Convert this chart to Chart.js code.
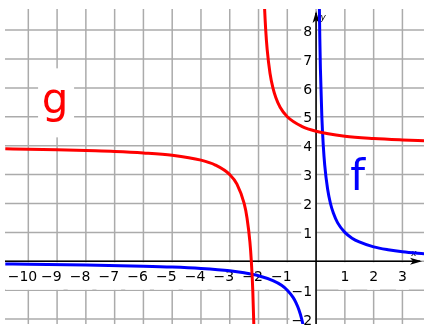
<!DOCTYPE html>
<html>
<head>
<meta charset="utf-8">
<script src="https://cdn.jsdelivr.net/npm/chart.js@4"></script>
<style>
  html, body { margin: 0; padding: 0; background: #fff; }
  canvas { display: block; }
</style>
</head>
<body>
<canvas id="chart" width="429" height="325"></canvas>
<script>
// grid / tick values
const xTicks = [-10, -9, -8, -7, -6, -5, -4, -3, -2, -1, 1, 2, 3];
const yTicks = [-2, -1, 1, 2, 3, 4, 5, 6, 7, 8];
const xGrid = [-10, -9, -8, -7, -6, -5, -4, -3, -2, -1, 0, 1, 2, 3];
const yGrid = [-2, -1, 0, 1, 2, 3, 4, 5, 6, 7, 8];

// g, left branch
const gLeftX = [-10.8, -10, -9, -8, -7, -6, -5, -4, -3.5, -3, -2.75, -2.5, -2.4, -2.3, -2.25, -2.2, -2.15];
const gLeftY = [3.89, 3.88, 3.86, 3.83, 3.8, 3.75, 3.67, 3.5, 3.33, 3.0, 2.67, 2.0, 1.5, 0.67, 0.0, -1.0, -2.67];
// g, right branch
const gRightX = [-1.85, -1.8, -1.75, -1.7, -1.6, -1.5, -1.4, -1.25, -1, -0.5, 0, 1, 2, 3, 3.8];
const gRightY = [10.67, 9.0, 8.0, 7.33, 6.5, 6.0, 5.67, 5.33, 5.0, 4.67, 4.5, 4.33, 4.25, 4.2, 4.17];
// f, left branch
const fLeftX = [-10.8, -10, -8, -6, -5, -4, -3, -2.5, -2, -1.5, -1.2, -1, -0.8, -0.7, -0.6, -0.5, -0.45, -0.4];
const fLeftY = [-0.09, -0.1, -0.13, -0.17, -0.2, -0.25, -0.33, -0.4, -0.5, -0.67, -0.83, -1.0, -1.25, -1.43, -1.67, -2.0, -2.22, -2.5];
// f, right branch
const fRightX = [0.1, 0.115, 0.13, 0.15, 0.2, 0.25, 0.3, 0.4, 0.5, 0.6, 0.75, 1, 1.25, 1.5, 2, 2.5, 3, 3.8];
const fRightY = [10.0, 8.7, 7.7, 6.67, 5.0, 4.0, 3.33, 2.5, 2.0, 1.67, 1.33, 1.0, 0.8, 0.67, 0.5, 0.4, 0.33, 0.26];

const curveNames = ["g", "f"];
const curveNameX = [-9.07, 1.44];
const curveNameY = [5.5, 2.84];

const RED = "#ff0000";
const BLUE = "#0000ff";
const FONT = "14px 'DejaVu Sans'";

function pts(xs, ys) {
    return xs.map(function (v, i) { return { x: v, y: ys[i] }; });
}

function branch(xs, ys, color) {
    return {
        data: pts(xs, ys),
        borderColor: color,
        borderWidth: 3,
        pointRadius: 0,
        showLine: true,
        fill: false,
        cubicInterpolationMode: "monotone",
    };
}

// grid, axes and labels go under the curves
const axesPlugin = {
    id: "axes",
    beforeDatasetsDraw(chart) {
        const ctx = chart.ctx;
        const a = chart.chartArea;
        const sx = chart.scales.x;
        const sy = chart.scales.y;
        const x0 = sx.getPixelForValue(0);
        const y0 = sy.getPixelForValue(0);

        ctx.save();
        // grid
        ctx.strokeStyle = "#ababab";
        ctx.lineWidth = 1.5;
        xGrid.forEach(function (v) {
            const px = sx.getPixelForValue(v);
            ctx.beginPath();
            ctx.moveTo(px, a.top);
            ctx.lineTo(px, a.bottom);
            ctx.stroke();
        });
        yGrid.forEach(function (v) {
            const py = sy.getPixelForValue(v);
            ctx.beginPath();
            ctx.moveTo(a.left, py);
            ctx.lineTo(a.right, py);
            ctx.stroke();
        });

        ctx.font = FONT;
        ctx.textBaseline = "middle";

        // x tick labels (digits centred on the tick, minus hangs left)
        xTicks.forEach(function (v) {
            const px = sx.getPixelForValue(v);
            const digits = String(Math.abs(v));
            const dw = ctx.measureText(digits).width;
            const mw = v < 0 ? ctx.measureText("\u2212").width : 0;
            const left = px - dw / 2 - mw;
            ctx.fillStyle = "#fff";
            ctx.fillRect(left - 2, y0 + 1, dw + mw + 4, 27.5);
            ctx.fillStyle = "#000";
            ctx.textAlign = "left";
            ctx.fillText((v < 0 ? "\u2212" : "") + digits, left, y0 + 16);
        });

        // y tick labels
        yTicks.forEach(function (v) {
            const py = sy.getPixelForValue(v);
            const txt = (v < 0 ? "\u2212" : "") + Math.abs(v);
            const w = ctx.measureText(txt).width;
            ctx.fillStyle = "#fff";
            ctx.fillRect(x0 - 6 - w, py - 8, w + 5, 18);
            ctx.fillStyle = "#000";
            ctx.textAlign = "right";
            ctx.fillText(txt, x0 - 4, py + 2);
        });

        // curve names
        ctx.font = "42px 'DejaVu Sans'";
        ctx.textAlign = "center";
        curveNames.forEach(function (name, i) {
            const px = sx.getPixelForValue(curveNameX[i]);
            const py = sy.getPixelForValue(curveNameY[i]);
            const w = ctx.measureText(name).width;
            ctx.fillStyle = "#fff";
            if (name === "g") {
                ctx.fillRect(px - 17, py - 34, 36, 69);
            } else {
                ctx.fillRect(px - w / 2 - 1, py - 28, w + 2, 50);
            }
            ctx.fillStyle = i === 0 ? RED : BLUE;
            ctx.fillText(name, px, py);
        });

        // axes
        ctx.strokeStyle = "#000";
        ctx.fillStyle = "#000";
        ctx.lineWidth = 1.5;
        ctx.beginPath();
        ctx.moveTo(a.left, y0);
        ctx.lineTo(a.right - 4, y0);
        ctx.moveTo(x0, a.bottom);
        ctx.lineTo(x0, a.top + 4);
        ctx.stroke();

        // arrow heads
        ctx.beginPath();
        ctx.moveTo(a.right - 2, y0);
        ctx.lineTo(a.right - 14, y0 - 3.5);
        ctx.lineTo(a.right - 11, y0);
        ctx.lineTo(a.right - 14, y0 + 3.5);
        ctx.closePath();
        ctx.fill();
        ctx.beginPath();
        ctx.moveTo(x0, a.top + 2);
        ctx.lineTo(x0 - 3.5, a.top + 14);
        ctx.lineTo(x0, a.top + 11);
        ctx.lineTo(x0 + 3.5, a.top + 14);
        ctx.closePath();
        ctx.fill();

        ctx.font = "italic 9px 'DejaVu Sans'";
        ctx.textAlign = "center";
        ctx.fillText("x", a.right - 10, y0 - 8);
        ctx.fillText("y", x0 + 7, a.top + 9);
        ctx.restore();
    },
};

new Chart(document.getElementById("chart").getContext("2d"), {
    type: "scatter",
    data: {
        datasets: [
            branch(gLeftX, gLeftY, RED),
            branch(gRightX, gRightY, RED),
            branch(fLeftX, fLeftY, BLUE),
            branch(fRightX, fRightY, BLUE),
        ],
    },
    options: {
        responsive: false,
        animation: false,
        devicePixelRatio: 1,
        layout: { padding: { left: 5, right: 5, top: 9, bottom: 1 } },
        scales: {
            x: { type: "linear", min: -10.81, max: 3.75, display: false },
            y: { type: "linear", min: -2.17, max: 8.73, display: false },
        },
        plugins: {
            legend: { display: false },
            tooltip: { enabled: false },
            title: { display: false },
        },
    },
    plugins: [axesPlugin],
});
</script>
</body>
</html>
